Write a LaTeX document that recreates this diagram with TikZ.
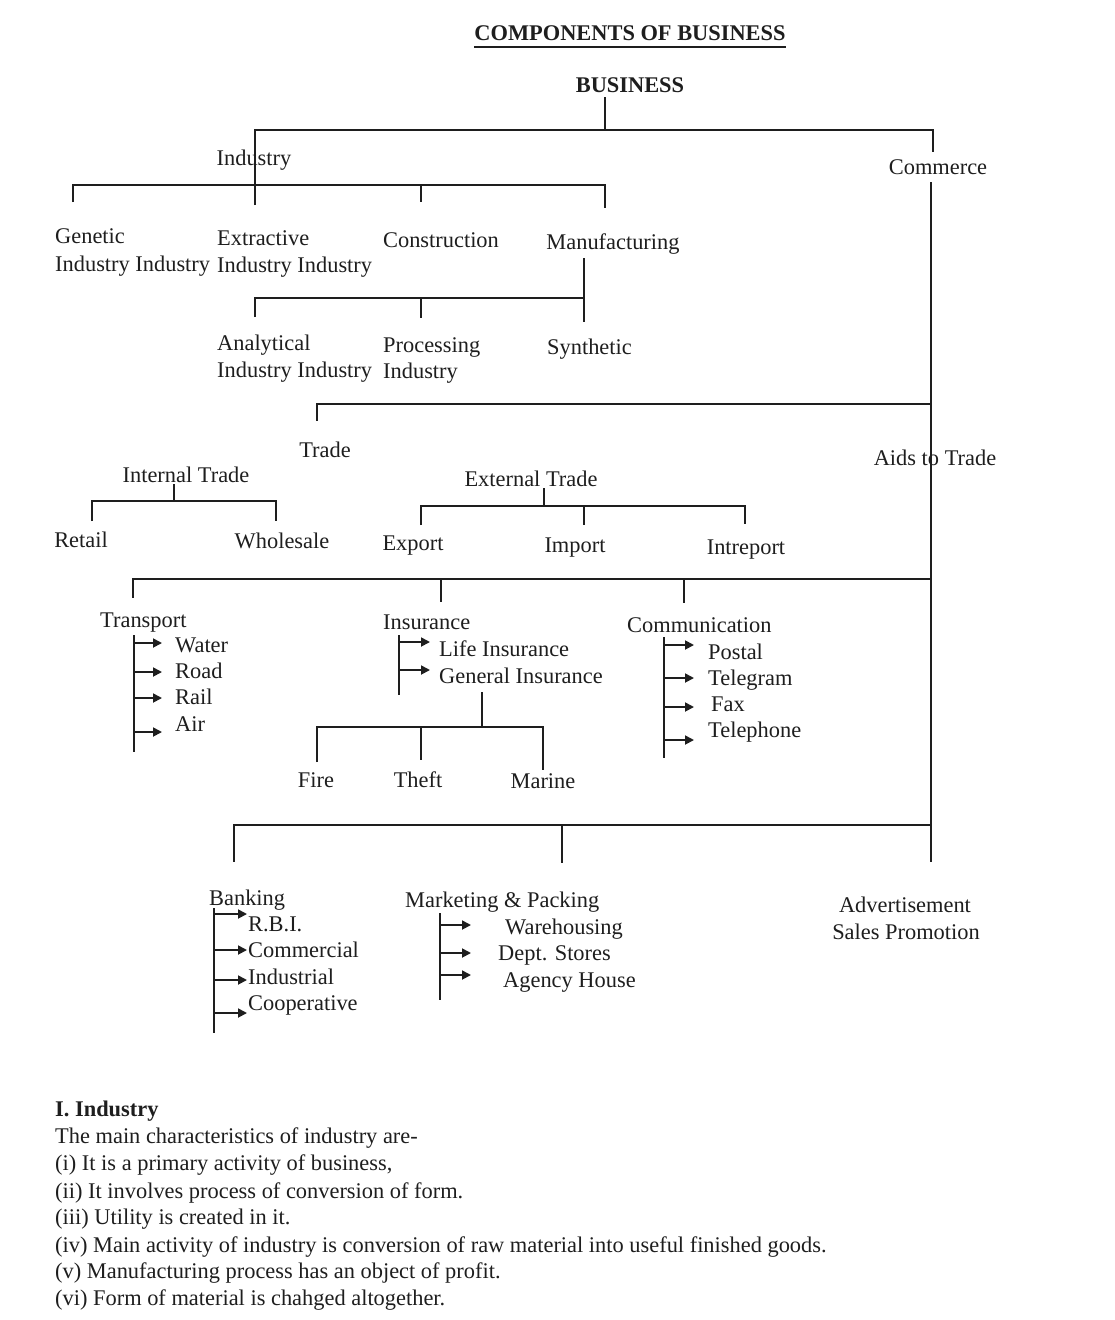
\documentclass[tikz,border=0pt]{standalone}
\usepackage{fontspec}
\setmainfont{Liberation Serif}
\usetikzlibrary{arrows.meta}
\definecolor{ink}{HTML}{1E1E1E}
\begin{document}
\begin{tikzpicture}[x=1pt,y=-1pt,
  lbl/.style={inner sep=0pt, font=\fontsize{22.4}{27}\selectfont, text height=15pt, text depth=4.5pt, text=ink, yshift=-2.5pt},
  bold/.style={font=\fontsize{22.4}{27}\selectfont\bfseries},
  wire/.style={line width=1.8pt, draw=ink},
  arr/.style={wire, -{Triangle[length=9pt,width=9pt]}},
  uline/.style={line width=1.3pt, draw=ink}
]
\fill[white] (0,0) rectangle (1115,1320);
\useasboundingbox (0,0) rectangle (1115,1320);

% ---------- top ----------
\node[lbl,bold] (title) at (630,33) {COMPONENTS OF BUSINESS};
\draw[uline] ([yshift=-1.5pt]title.south west) -- ([yshift=-1.5pt]title.south east);
\node[lbl,bold] (business) at (630,85) {BUSINESS};

\coordinate (b0) at (605,97);
\coordinate (b1) at (605,130);
\coordinate (indtop) at (255,130);
\coordinate (comtop) at (933,130);
\coordinate (comdrop) at (933,152);
\coordinate (indbot) at (255,205);
\draw[wire] (b0) -- (b1);
\draw[wire] (indbot) -- (indtop) -- (comtop) -- (comdrop);

\node[lbl] (industry) at (254,158) {Industry};
\node[lbl] (commerce) at (938,167) {Commerce};

% industry branch
\coordinate (ib1) at (73,185);
\coordinate (ib2) at (605,185);
\coordinate (ib1d) at (73,202);
\coordinate (ib3) at (421,185);
\coordinate (ib3d) at (421,202);
\coordinate (ib2d) at (605,208);
\draw[wire] (ib1d) -- (ib1) -- (ib2) -- (ib2d);
\draw[wire] (ib3) -- (ib3d);

\node[lbl,anchor=west] (genetic) at (55,236) {Genetic};
\node[lbl,anchor=west] (extractive) at (217,238) {Extractive};
\node[lbl] (construction) at (441,240) {Construction};
\node[lbl] (manufacturing) at (613,242) {Manufacturing};
\node[lbl,anchor=west] (genind) at (55,264) {Industry Industry};
\node[lbl,anchor=west] (extind) at (217,265) {Industry Industry};

% manufacturing branch
\coordinate (m0) at (584,258);
\coordinate (m1) at (584,322);
\coordinate (mb) at (584,298);
\coordinate (ma) at (255,298);
\coordinate (mad) at (255,317);
\coordinate (mp) at (421,298);
\coordinate (mpd) at (421,318);
\draw[wire] (m0) -- (m1);
\draw[wire] (mad) -- (ma) -- (mb);
\draw[wire] (mp) -- (mpd);

\node[lbl,anchor=west] (analytical) at (217,343) {Analytical};
\node[lbl,anchor=west] (processing) at (383,345) {Processing};
\node[lbl,anchor=west] (synthetic) at (547,347) {Synthetic};
\node[lbl,anchor=west] (anind) at (217,370) {Industry Industry};
\node[lbl,anchor=west] (prind) at (383,371) {Industry};

% ---------- commerce spine ----------
\coordinate (c0) at (931,182);
\coordinate (c1) at (931,862);
\draw[wire] (c0) -- (c1);

% trade
\coordinate (tr0) at (931,404);
\coordinate (tr1) at (317,404);
\coordinate (tr1d) at (317,421);
\draw[wire] (tr0) -- (tr1) -- (tr1d);
\node[lbl] (trade) at (325,450) {Trade};
\node[lbl] (aids) at (935,458) {Aids to Trade};

\node[lbl] (internal) at (186,475) {Internal Trade};
\coordinate (it0) at (174,484);
\coordinate (it1) at (174,501);
\coordinate (itl) at (92,501);
\coordinate (itld) at (92,521);
\coordinate (itr) at (276,501);
\coordinate (itrd) at (276,521);
\draw[wire] (it0) -- (it1);
\draw[wire] (itld) -- (itl) -- (itr) -- (itrd);
\node[lbl] (retail) at (81,540) {Retail};
\node[lbl] (wholesale) at (282,541) {Wholesale};

\node[lbl] (external) at (531,479) {External Trade};
\coordinate (et0) at (544,488);
\coordinate (et1) at (544,506);
\coordinate (etl) at (421,506);
\coordinate (etld) at (421,525);
\coordinate (etm) at (584,506);
\coordinate (etmd) at (584,525);
\coordinate (etr) at (745,506);
\coordinate (etrd) at (745,524);
\draw[wire] (et0) -- (et1);
\draw[wire] (etld) -- (etl) -- (etr) -- (etrd);
\draw[wire] (etm) -- (etmd);
\node[lbl] (export) at (413,543) {Export};
\node[lbl] (import) at (575,545) {Import};
\node[lbl] (intreport) at (746,547) {Intreport};

% aids bus
\coordinate (ab0) at (931,579);
\coordinate (ab1) at (133,579);
\coordinate (ab1d) at (133,598);
\coordinate (ab2) at (441,579);
\coordinate (ab2d) at (441,602);
\coordinate (ab3) at (684,579);
\coordinate (ab3d) at (684,603);
\draw[wire] (ab0) -- (ab1) -- (ab1d);
\draw[wire] (ab2) -- (ab2d);
\draw[wire] (ab3) -- (ab3d);

% transport
\node[lbl,anchor=west] (transport) at (100,620) {Transport};
\coordinate (ts0) at (134,635);
\coordinate (ts1) at (134,752);
\draw[wire] (ts0) -- (ts1);
\node[lbl,anchor=west] (water) at (175,645) {Water};
\node[lbl,anchor=west] (road) at (175,671) {Road};
\node[lbl,anchor=west] (rail) at (175,697) {Rail};
\node[lbl,anchor=west] (air) at (175,724) {Air};
\foreach \y in {643,672,698,732}{
  \draw[arr] (134,\y) -- (162,\y);
}

% insurance
\node[lbl,anchor=west] (insurance) at (383,622) {Insurance};
\coordinate (is0) at (399,635);
\coordinate (is1) at (399,695);
\draw[wire] (is0) -- (is1);
\node[lbl,anchor=west] (life) at (439,649) {Life Insurance};
\node[lbl,anchor=west] (general) at (439,676) {General Insurance};
\foreach \y in {642,670}{
  \draw[arr] (399,\y) -- (430,\y);
}
\coordinate (g0) at (482,692);
\coordinate (g1) at (482,727);
\coordinate (gl) at (317,727);
\coordinate (gld) at (317,762);
\coordinate (gm) at (421,727);
\coordinate (gmd) at (421,760);
\coordinate (gr) at (543,727);
\coordinate (grd) at (543,770);
\draw[wire] (g0) -- (g1);
\draw[wire] (gld) -- (gl) -- (gr) -- (grd);
\draw[wire] (gm) -- (gmd);
\node[lbl] (fire) at (316,780) {Fire};
\node[lbl] (theft) at (418,780) {Theft};
\node[lbl] (marine) at (543,781) {Marine};

% communication
\node[lbl,anchor=west] (communication) at (627,625) {Communication};
\coordinate (cs0) at (664,637);
\coordinate (cs1) at (664,758);
\draw[wire] (cs0) -- (cs1);
\node[lbl,anchor=west] (postal) at (708,652) {Postal};
\node[lbl,anchor=west] (telegram) at (708,678) {Telegram};
\node[lbl,anchor=west] (fax) at (711,704) {Fax};
\node[lbl,anchor=west] (telephone) at (708,730) {Telephone};
\foreach \y in {645,678,707,740}{
  \draw[arr] (664,\y) -- (694,\y);
}

% lower bus
\coordinate (lb0) at (931,825);
\coordinate (lb1) at (234,825);
\coordinate (lb1d) at (234,862);
\coordinate (lb2) at (562,825);
\coordinate (lb2d) at (562,863);
\draw[wire] (lb0) -- (lb1) -- (lb1d);
\draw[wire] (lb2) -- (lb2d);

% banking
\node[lbl,anchor=west] (banking) at (209,898) {Banking};
\coordinate (bs0) at (214,908);
\coordinate (bs1) at (214,1033);
\draw[wire] (bs0) -- (bs1);
\node[lbl,anchor=west] (rbi) at (248,924) {R.B.I.};
\node[lbl,anchor=west] (commercial) at (248,950) {Commercial};
\node[lbl,anchor=west] (industrial) at (248,977) {Industrial};
\node[lbl,anchor=west] (cooperative) at (248,1003) {Cooperative};
\foreach \y in {914,950,980,1013}{
  \draw[arr] (214,\y) -- (247,\y);
}

% marketing
\node[lbl,anchor=west] (marketing) at (405,900) {Marketing \& Packing};
\coordinate (ms0) at (440,913);
\coordinate (ms1) at (440,1000);
\draw[wire] (ms0) -- (ms1);
\node[lbl,anchor=west] (warehousing) at (505,927) {Warehousing};
\node[lbl,anchor=west] (dept) at (498,953) {Dept. Stores};
\node[lbl,anchor=west] (agency) at (503,980) {Agency House};
\foreach \y in {925,953,975}{
  \draw[arr] (440,\y) -- (471,\y);
}

% advertisement
\node[lbl] (advert) at (905,905) {Advertisement};
\node[lbl] (sales) at (906,932) {Sales Promotion};

% ---------- notes ----------
\node[lbl,bold,anchor=west] (t0) at (55,1109) {I. Industry};
\node[lbl,anchor=west] (t1) at (55,1136) {The main characteristics of industry are-};
\node[lbl,anchor=west] (t2) at (55,1163) {(i) It is a primary activity of business,};
\node[lbl,anchor=west] (t3) at (55,1191) {(ii) It involves process of conversion of form.};
\node[lbl,anchor=west] (t4) at (55,1217) {(iii) Utility is created in it.};
\node[lbl,anchor=west] (t5) at (55,1245) {(iv) Main activity of industry is conversion of raw material into useful finished goods.};
\node[lbl,anchor=west] (t6) at (55,1271) {(v) Manufacturing process has an object of profit.};
\node[lbl,anchor=west] (t7) at (55,1298) {(vi) Form of material is chahged altogether.};
\end{tikzpicture}
\end{document}
